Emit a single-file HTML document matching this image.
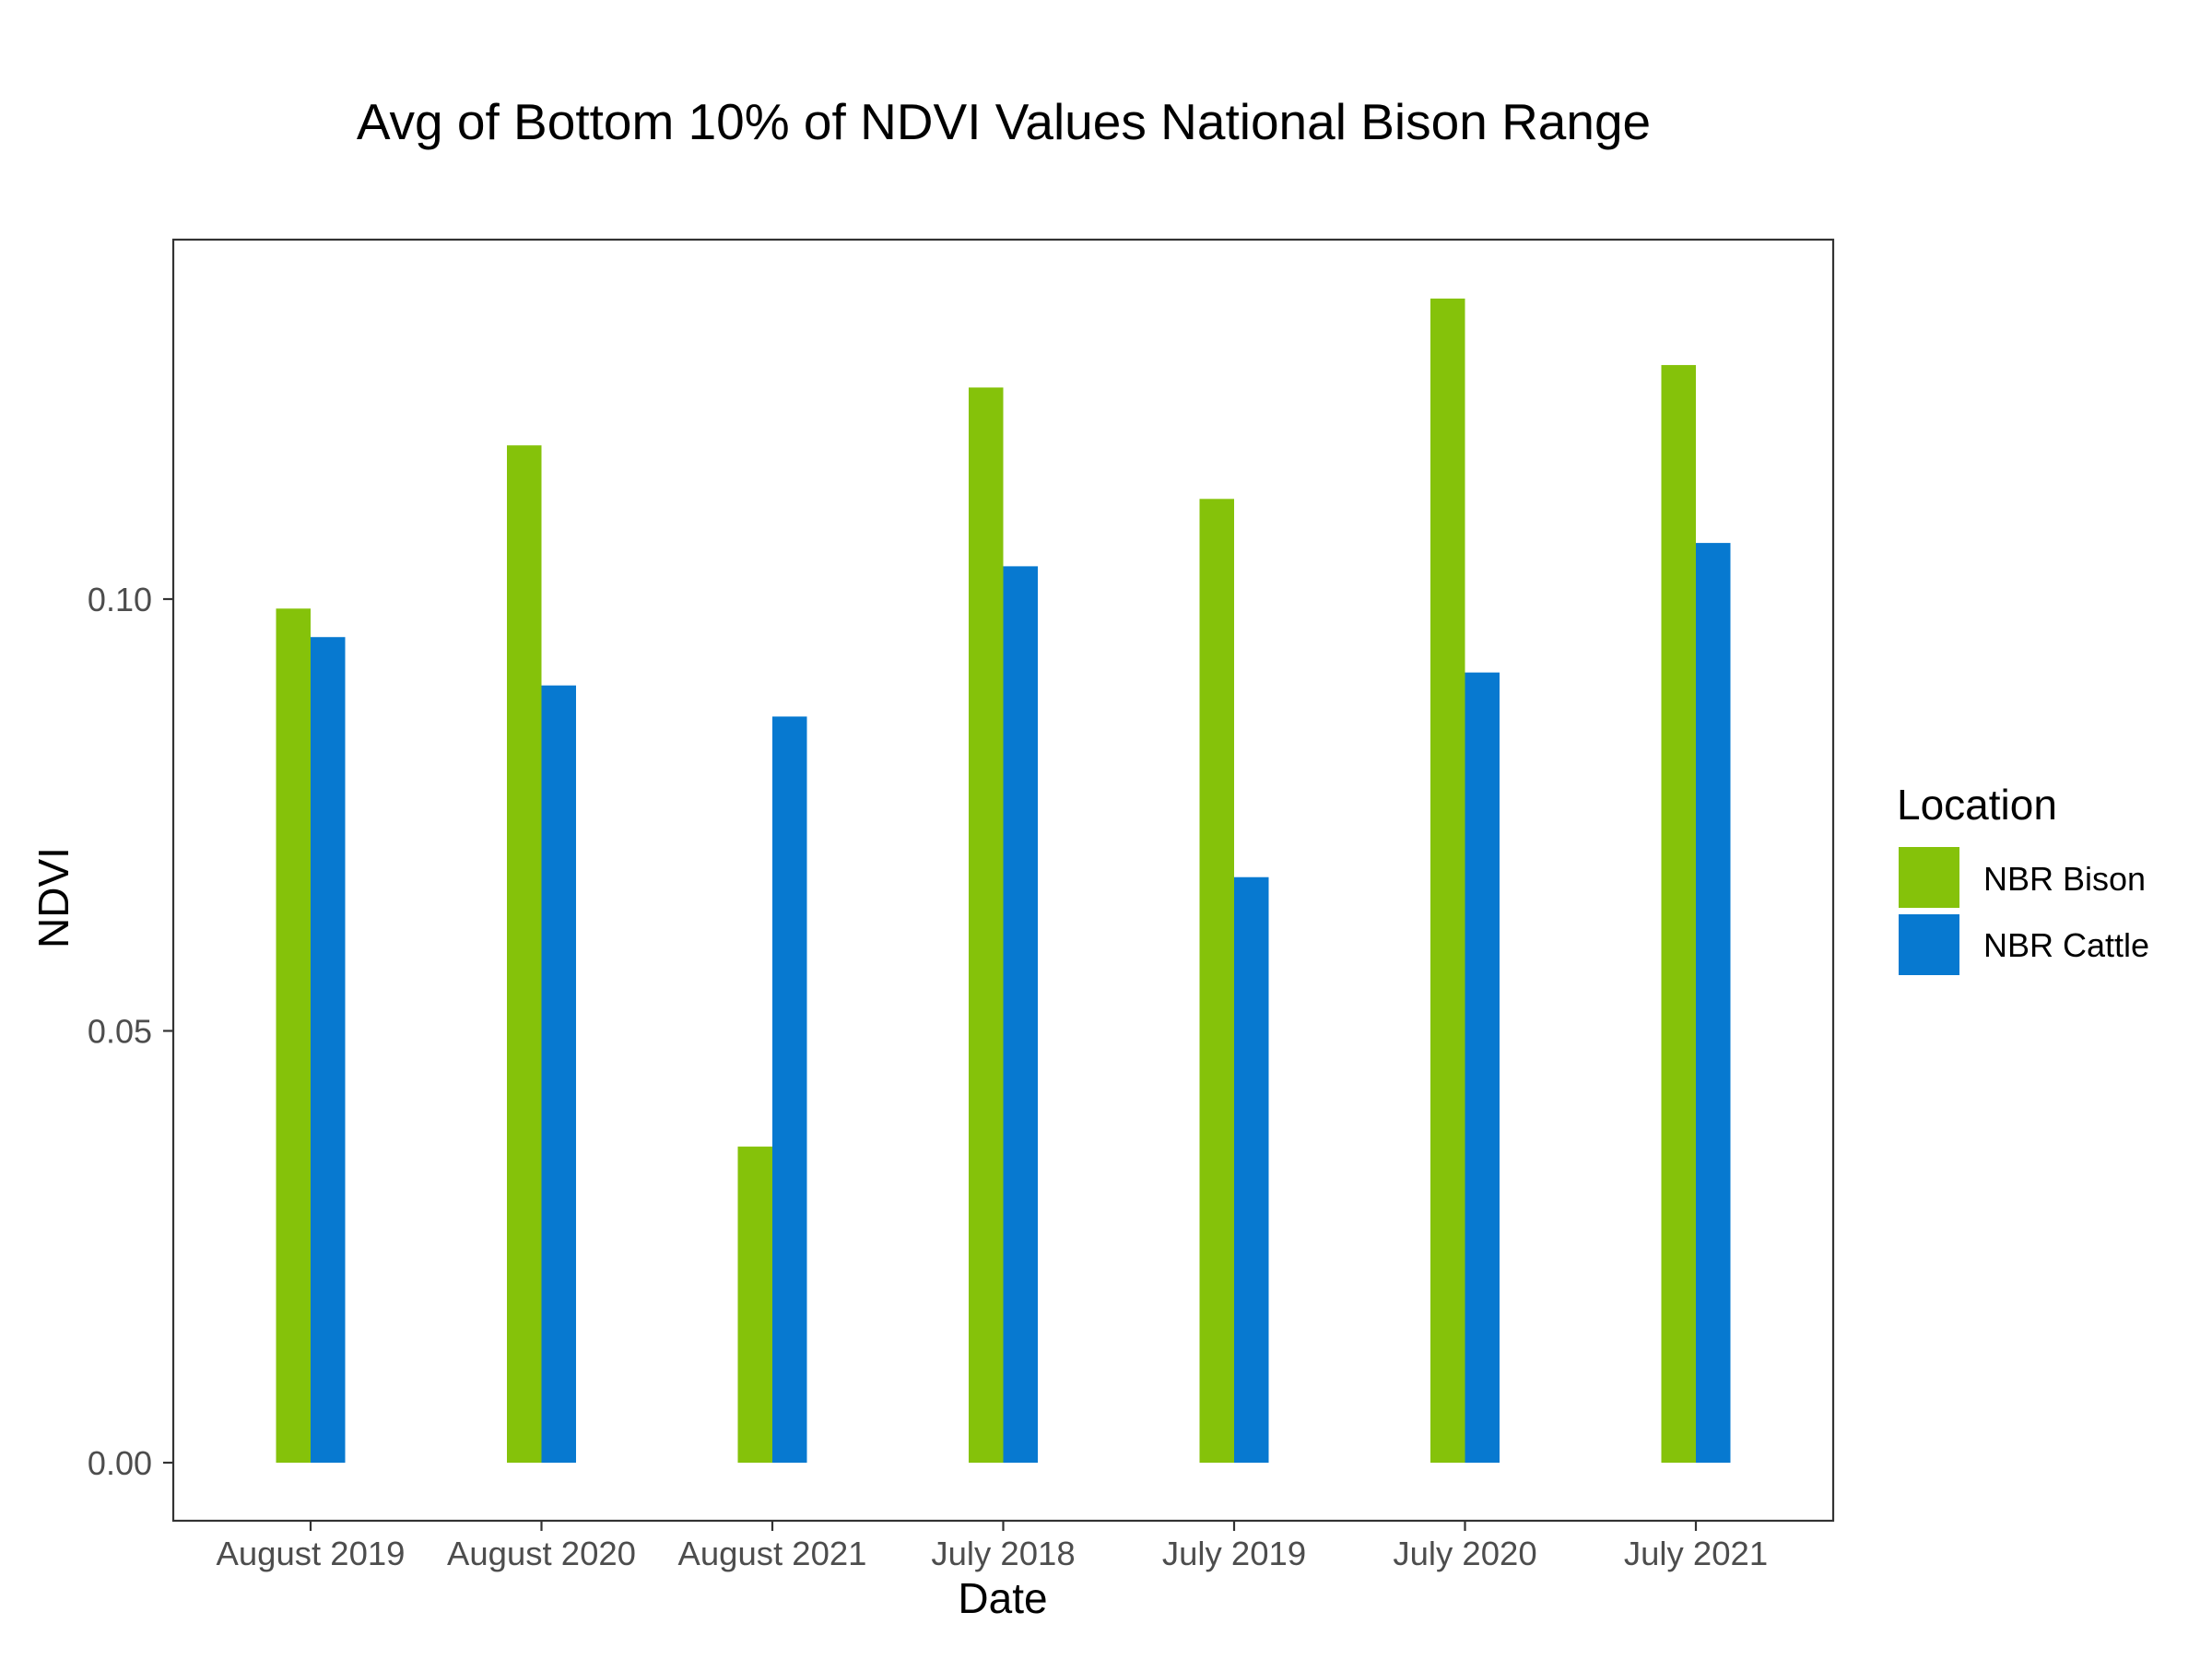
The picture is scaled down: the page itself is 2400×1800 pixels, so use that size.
<!DOCTYPE html>
<html><head><meta charset="utf-8"><style>
html,body{margin:0;padding:0;background:#fff;}
svg{display:block;font-family:"Liberation Sans",Arial,sans-serif;}
</style></head><body>
<svg id="chart" width="2400" height="1800" viewBox="0 0 2400 1800">
<rect width="2400" height="1800" fill="#fff"/>
<text x="1089" y="151" font-size="55" text-anchor="middle" fill="#000">Avg of Bottom 10% of NDVI Values National Bison Range</text>
<g id="bars"></g>
<rect x="188" y="260" width="1801" height="1390" fill="none" stroke="#333" stroke-width="2.2"/>
<g id="yaxis"></g>
<g id="xaxis"></g>
<text x="1088" y="1750" font-size="46" text-anchor="middle" fill="#000">Date</text>
<text transform="translate(74,974) rotate(-90)" font-size="46" text-anchor="middle" fill="#000">NDVI</text>
<g>
<text x="2058" y="889" font-size="46" fill="#000">Location</text>
<rect x="2060" y="919" width="66" height="66" fill="#85C20A"/>
<text x="2152" y="966" font-size="36" fill="#000">NBR Bison</text>
<rect x="2060" y="992" width="66" height="66" fill="#0779D0"/>
<text x="2152" y="1038" font-size="36" fill="#000">NBR Cattle</text>
</g>
</svg>
<script>
const categories = ["August 2019","August 2020","August 2021","July 2018","July 2019","July 2020","July 2021"];
const bisonValues = [0.0989,0.1178,0.0366,0.1245,0.1116,0.1348,0.1271];
const cattleValues = [0.0956,0.0900,0.0864,0.1038,0.0678,0.0915,0.1065];
const yTicks = [0, 0.05, 0.10];
const yTickLabels = ["0.00","0.05","0.10"];

const NS = "http://www.w3.org/2000/svg";
const y0px = 1587, pxPerUnit = 9370;
function yScale(v){ return y0px - v*pxPerUnit; }
function xScale(i){ return 337 + i*250.5; }
const barW = 37.5;
function mk(tag, attrs, parent){
  const e = document.createElementNS(NS, tag);
  for (const k in attrs) e.setAttribute(k, attrs[k]);
  parent.appendChild(e); return e;
}
const bars = document.getElementById("bars");
categories.forEach((c,i)=>{
  const cx = xScale(i);
  const b = mk("rect",{x:cx-barW,y:yScale(bisonValues[i]),width:barW,height:y0px-yScale(bisonValues[i]),fill:"#85C20A"},bars);
  
  
  const r = mk("rect",{x:cx,y:yScale(cattleValues[i]),width:barW,height:y0px-yScale(cattleValues[i]),fill:"#0779D0"},bars);
  
  
});
const ya = document.getElementById("yaxis");
yTicks.forEach((t,i)=>{
  const y = yScale(t);
  const l = mk("line",{x1:177,x2:188,y1:y,y2:y,stroke:"#333","stroke-width":2.2},ya);
  
  
  const tx = mk("text",{x:165,y:y+13,"font-size":36,"text-anchor":"end",fill:"#4d4d4d"},ya);
  tx.textContent = yTickLabels[i];
  
  
});
const xa = document.getElementById("xaxis");
categories.forEach((c,i)=>{
  const x = xScale(i);
  const l = mk("line",{x1:x,x2:x,y1:1650,y2:1661,stroke:"#333","stroke-width":2.2},xa);
  
  
  const tx = mk("text",{x:x,y:1698,"font-size":36.5,"text-anchor":"middle",fill:"#4d4d4d"},xa);
  tx.textContent = c;
  
  
});
</script>
</body></html>
